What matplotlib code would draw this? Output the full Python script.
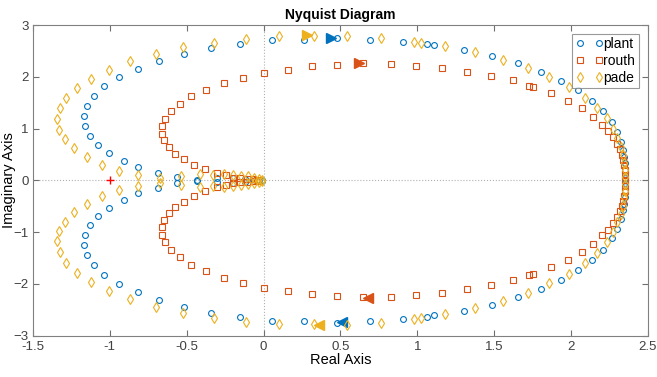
import numpy as np
import matplotlib
matplotlib.use("Agg")
import matplotlib.pyplot as plt

plt.rcParams['font.family'] = ['Liberation Sans', 'DejaVu Sans']

# upper branch (positive imaginary part);
# the lower branch is the mirror image (complex conjugate)
plant_re = [2.35, 2.35, 2.35, 2.35, 2.348, 2.344, 2.335, 2.324, 2.30, 2.264, 2.21, 2.138,
            2.047, 1.934, 1.802, 1.652, 1.487, 1.303, 1.108, 1.061, 0.905, 0.692, 0.475,
            0.265, 0.054, -0.152, -0.343, -0.518, -0.679, -0.82, -0.939, -1.035, -1.104,
            -1.15, -1.167, -1.163, -1.132, -1.08, -1.004, -0.911, -0.815, -0.685, -0.565,
            -0.435, -0.305, -0.197, -0.12, -0.07, -0.03, -0.01]
plant_im = [0.0, 0.05, 0.1, 0.2, 0.33, 0.45, 0.58, 0.75, 0.93, 1.12, 1.34, 1.54,
            1.74, 1.92, 2.10, 2.26, 2.40, 2.52, 2.61, 2.63, 2.68, 2.72, 2.75,
            2.72, 2.71, 2.64, 2.56, 2.45, 2.31, 2.16, 2.0, 1.82, 1.63,
            1.44, 1.24, 1.05, 0.86, 0.69, 0.53, 0.37, 0.25, 0.15, 0.06,
            0.005, 0.04, 0.05, 0.03, 0.02, 0.01, 0.005]

routh_re = [2.35, 2.35, 2.348, 2.344, 2.34, 2.331, 2.318, 2.30, 2.274, 2.242, 2.203, 2.145,
            2.069, 1.978, 1.871, 1.754, 1.724, 1.62, 1.479, 1.325, 1.162, 0.993, 0.826,
            0.649, 0.48, 0.315, 0.156, 0.004, -0.137, -0.26, -0.375, -0.469, -0.544,
            -0.603, -0.642, -0.659, -0.664, -0.649, -0.618, -0.576, -0.516, -0.45, -0.381,
            -0.305, -0.245, -0.197, -0.153, -0.11, -0.07, -0.04]
routh_im = [0.0, 0.1, 0.2, 0.30, 0.39, 0.49, 0.60, 0.71, 0.83, 0.95, 1.06, 1.23,
            1.39, 1.54, 1.68, 1.81, 1.83, 1.93, 2.02, 2.10, 2.17, 2.21, 2.245,
            2.26, 2.23, 2.2, 2.14, 2.08, 1.98, 1.88, 1.75, 1.63, 1.48,
            1.34, 1.19, 1.05, 0.90, 0.77, 0.64, 0.51, 0.41, 0.30, 0.21,
            0.135, 0.096, 0.045, 0.04, 0.03, 0.02, 0.01]

pade_re = [2.35, 2.348, 2.344, 2.335, 2.322, 2.302, 2.274, 2.231, 2.168, 2.088, 1.984,
           1.859, 1.718, 1.555, 1.377, 1.182, 1.024, 0.979, 0.761, 0.54, 0.325, 0.098,
           -0.115, -0.325, -0.521, -0.70, -0.866, -1.004, -1.124, -1.215, -1.282, -1.323,
           -1.341, -1.328, -1.291, -1.23, -1.148, -1.048, -0.94, -0.815, -0.674, -0.54,
           -0.412, -0.33, -0.26, -0.2, -0.15, -0.1, -0.06, -0.03, -0.01]
pade_im = [0.07, 0.2, 0.33, 0.49, 0.65, 0.81, 1.0, 1.2, 1.4, 1.6, 1.8,
           1.99, 2.17, 2.33, 2.47, 2.59, 2.66, 2.68, 2.75, 2.79, 2.78, 2.78,
           2.73, 2.66, 2.57, 2.44, 2.30, 2.14, 1.96, 1.78, 1.59, 1.39,
           1.18, 0.98, 0.80, 0.62, 0.45, 0.30, 0.19, 0.10, 0.045, 0.09,
           0.13, 0.10, 0.12, 0.10, 0.09, 0.08, 0.05, 0.03, 0.01]

# direction arrows (centre points), upper then lower branch
plant_arrows = [(0.44, 2.75, '>'), (0.51, -2.73, '<')]
routh_arrows = [(0.62, 2.27, '>'), (0.68, -2.27, '<')]
pade_arrows = [(0.28, 2.80, '>'), (0.36, -2.80, '<')]

blue = '#0072BD'
orange = '#D95319'
yellow = '#EDB120'

fig = plt.figure(figsize=(6.57, 3.77), dpi=100)
ax = fig.add_axes([0.0502, 0.1096, 0.936, 0.824])

ax.axhline(0, color='#b0b0b0', lw=0.8, ls=':', zorder=0)
ax.axvline(0, color='#b0b0b0', lw=0.8, ls=':', zorder=0)

series = [
    ('plant', plant_re, plant_im, 'o', 4.2, blue, plant_arrows),
    ('routh', routh_re, routh_im, 's', 3.8, orange, routh_arrows),
    ('pade', pade_re, pade_im, 'd', 5.2, yellow, pade_arrows),
]
for name, re, im, mk, ms, col, arrows in series:
    re = np.array(re)
    im = np.array(im)
    ax.plot(np.concatenate([re, re[::-1]]), np.concatenate([im, -im[::-1]]),
            ls='none', marker=mk, ms=ms, mfc='none', mec=col, mew=0.8, label=name)
    for xa, ya, m in arrows:
        ax.plot(xa, ya, marker=m, ms=7, color=col, ls='none')

ax.plot(-1, 0, marker='+', color='red', ms=6, mew=1.0, ls='none')

ax.set_xlim(-1.5, 2.5)
ax.set_ylim(-3, 3)
ax.set_xticks(np.arange(-1.5, 2.51, 0.5))
ax.set_xticklabels(['-1.5', '-1', '-0.5', '0', '0.5', '1', '1.5', '2', '2.5'])
ax.set_yticks(np.arange(-3, 3.1, 1))
ax.tick_params(direction='in', top=True, right=True, length=4, width=0.8,
               colors='#707070', labelcolor='#404040', labelsize=9.5, pad=3)
ax.tick_params(axis='x', pad=4)
for sp in ax.spines.values():
    sp.set_color('#808080')
    sp.set_linewidth(0.8)

ax.set_title('Nyquist Diagram', fontsize=10, fontweight='bold', pad=4)
ax.set_xlabel('Real Axis', fontsize=10.5, labelpad=0)
ax.set_ylabel('Imaginary Axis', fontsize=10.5)
ax.yaxis.set_label_coords(-0.028, 0.5)

leg = ax.legend(loc='upper right', bbox_to_anchor=(0.985, 0.972), numpoints=2,
                handlelength=2.0, handletextpad=0.0, fontsize=10, frameon=True,
                fancybox=False, edgecolor='#808080', borderpad=0.25,
                labelspacing=0.2, borderaxespad=0)
leg.get_frame().set_linewidth(0.8)

fig.savefig('out.png', dpi=100)
